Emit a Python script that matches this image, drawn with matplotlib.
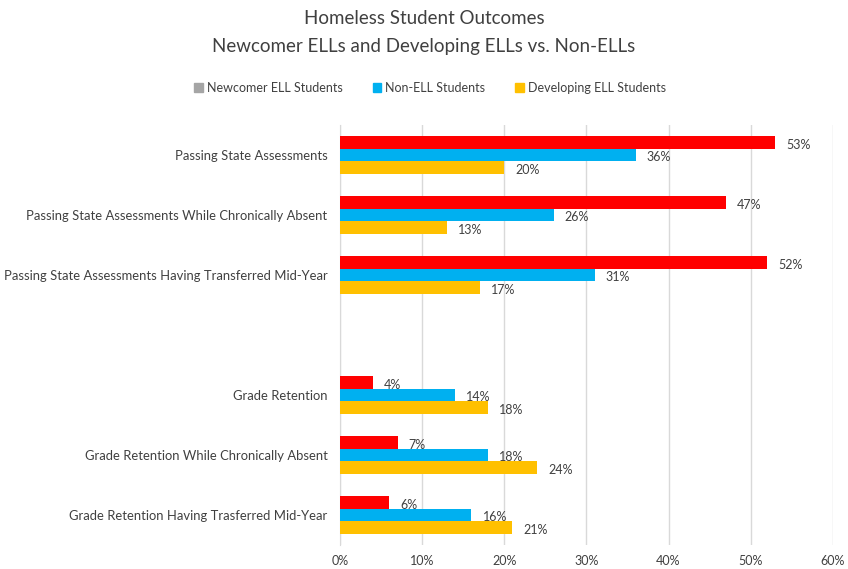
import matplotlib.pyplot as plt
from matplotlib.patches import Patch
import numpy as np

plt.rcParams['font.family'] = ['Lato', 'DejaVu Sans']

# categories, top to bottom ("" is the blank spacer slot)
categories = [
    'Passing State Assessments',
    'Passing State Assessments While Chronically Absent',
    'Passing State Assessments Having Transferred Mid-Year',
    '',
    'Grade Retention',
    'Grade Retention While Chronically Absent',
    'Grade Retention Having Trasferred Mid-Year',
]
newcomer = [53, 47, 52, None, 4, 7, 6]
non_ell = [36, 26, 31, None, 14, 18, 16]
developing = [20, 13, 17, None, 18, 24, 21]

series_names = ['Newcomer ELL Students', 'Non-ELL Students', 'Developing ELL Students']
bar_colors = ['#FF0000', '#00B0F0', '#FFC000']
legend_colors = ['#A5A5A5', '#00B0F0', '#FFC000']
xticks = [0, 10, 20, 30, 40, 50, 60]

txt = '#404040'

fig = plt.figure(figsize=(8.48, 5.69), dpi=100)
ax = fig.add_axes([0.401, 0.042, 0.581, 0.738])

y = np.arange(len(categories))
h = 0.21
for i, (vals, col) in enumerate(zip([newcomer, non_ell, developing], bar_colors)):
    for j, v in enumerate(vals):
        if v is None:
            continue
        yy = y[j] + (i - 1) * h
        ax.barh(yy, v, height=h, color=col, zorder=3)
        ax.annotate(f'{v}%', (v, yy), xytext=(8, -1.5), textcoords='offset points',
                    va='center', ha='left', fontsize=9, color=txt)

ax.set_ylim(len(categories) - 0.5, -0.5)
ax.set_xlim(0, 60)
ax.set_yticks(y)
ax.set_yticklabels(categories, fontsize=9.4, color=txt)
ax.set_xticks(xticks)
ax.set_xticklabels([f'{t}%' for t in xticks], fontsize=9, color=txt)
ax.tick_params(length=0)
ax.tick_params(axis='y', pad=9)
ax.tick_params(axis='x', pad=7)
ax.grid(axis='x', color='#D9D9D9', linewidth=1, zorder=0)
for s in ['top', 'right', 'bottom']:
    ax.spines[s].set_visible(False)
ax.spines['left'].set_color('#D9D9D9')

fig.text(0.5, 0.967, 'Homeless Student Outcomes', ha='center', va='center',
         fontsize=13.5, color=txt)
fig.text(0.5, 0.918, 'Newcomer ELLs and Developing ELLs vs. Non-ELLs', ha='center',
         va='center', fontsize=13.5, color=txt)

handles = [Patch(color=c, label=n) for c, n in zip(legend_colors, series_names)]
fig.legend(handles=handles, loc='center', bbox_to_anchor=(0.507, 0.845), ncol=3,
           frameon=False, fontsize=9, labelcolor=txt, handlelength=0.7,
           handleheight=0.7, handletextpad=0.3, columnspacing=2.4)

fig.savefig('out.png', dpi=100)
